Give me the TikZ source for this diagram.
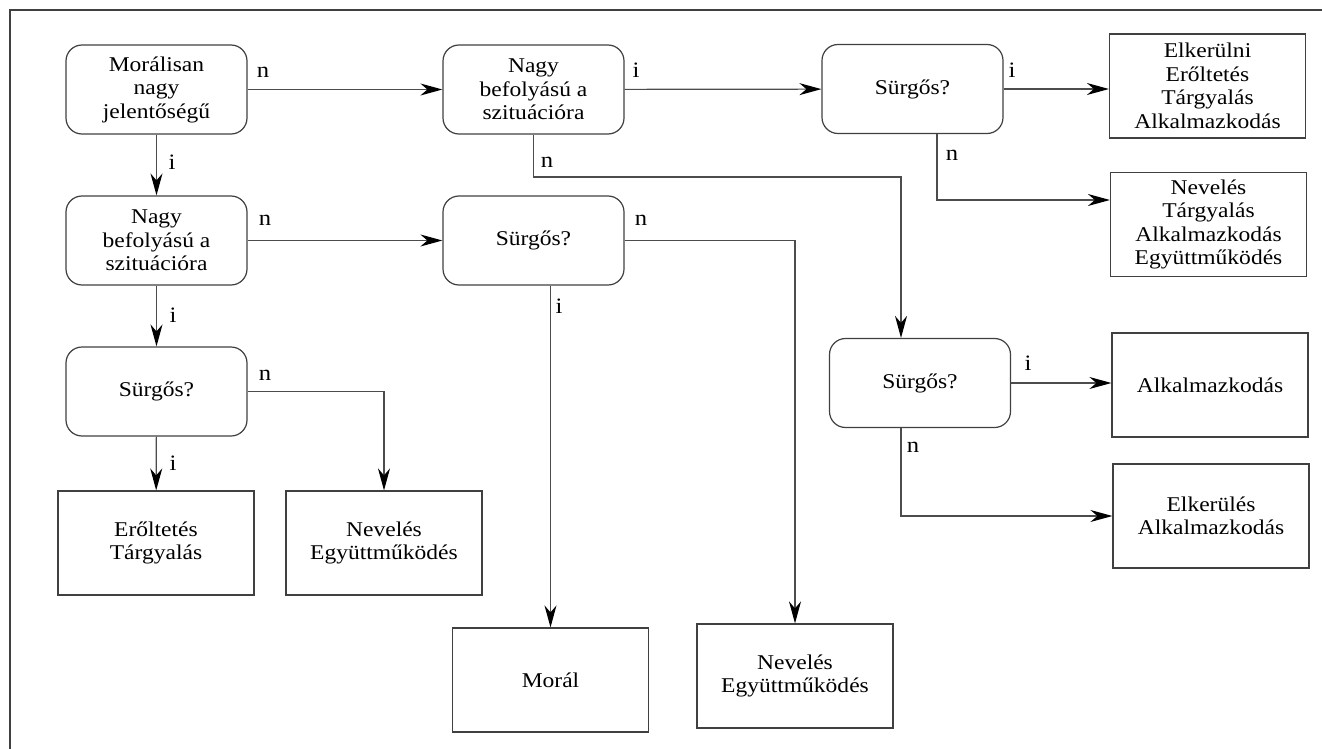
\documentclass[tikz,border=0pt]{standalone}
\usepackage{fontspec}
\setmainfont{Liberation Serif}[FakeStretch=1.12]
\usetikzlibrary{arrows.meta,calc}
\begin{document}
\begin{tikzpicture}[x=1pt,y=-1pt,
  txt/.style={font=\fontsize{21}{23.5}\selectfont, text=black},
  dec/.style={txt, draw=black!75, line width=1.2pt, rounded corners=16pt,
    minimum width=181pt, minimum height=89pt, align=center, inner sep=0pt},
  res/.style={txt, draw=black!75, line width=1.2pt,
    minimum width=196pt, minimum height=104pt, align=center, inner sep=0pt},
  lab/.style={font=\fontsize{22}{24}\selectfont, text=black, inner sep=0pt},
  arr/.style={draw=black!70, line width=1.2pt,
    -{Stealth[length=22pt,width=12pt,inset=7pt,color=black]}}]
\useasboundingbox (0,0) rectangle (1322,749);
\draw[draw=black!75, line width=1.5pt] (10,749) -- (10,10) -- (1322,10);

% decision nodes
\node[dec] (A) at (156.5,89.5) {Morálisan\\nagy\\jelentőségű};
\node[dec] (B) at (533.5,89.5) {Nagy\\befolyású a\\szituációra};
\node[dec] (C) at (912.5,89) {Sürgős?};
\node[dec] (F) at (156.5,240.5) {Nagy\\befolyású a\\szituációra};
\node[dec] (G) at (533.5,240.5) {Sürgős?};
\node[dec] (H) at (156.5,391.5) {Sürgős?};
\node[dec] (K) at (920,383) {Sürgős?};

% result boxes
\node[res] (D) at (1207.5,86) {Elkerülni\\Erőltetés\\Tárgyalás\\Alkalmazkodás};
\node[res] (E) at (1208.5,224.5) {Nevelés\\Tárgyalás\\Alkalmazkodás\\Együttműködés};
\node[res] (I) at (156,543) {Erőltetés\\Tárgyalás};
\node[res] (J) at (384,543) {Nevelés\\Együttműködés};
\node[res] (L) at (1210,385) {Alkalmazkodás};
\node[res] (M) at (1211,516) {Elkerülés\\Alkalmazkodás};
\node[res] (Mo) at (550.5,680) {Morál};
\node[res] (N) at (795,676) {Nevelés\\Együttműködés};

% connectors
\draw[arr] (A) -- (B);
\draw[arr] (A) -- (F);
\draw[arr] (F) -- (G);
\draw[arr] (F) -- (H);
\draw[arr] (H) -- (I);
\draw[arr] (H.east) -| (J.north);
\draw[arr] (B) -- (C);
\draw[arr] (B.south) |- ($(K.north)+(-19,-161)$) -- ($(K.north)+(-19,0)$);
\draw[arr] (C.east) -- (C.east -| D.west);
\draw[arr] ($(C.south)+(24.5,0)$) |- (E.west |- 0,200);
\draw[arr] (G.south -| Mo.north) -- (Mo.north);
\draw[arr] (G.east) -| (N.north);
\draw[arr] (K.east) -- (K.east -| L.west);
\draw[arr] ($(K.south)+(-19,0)$) |- (M.west);

% labels
\node[lab] at (263,72) {n};
\node[lab] at (172,162) {i};
\node[lab] at (265,220) {n};
\node[lab] at (173,315) {i};
\node[lab] at (265,375) {n};
\node[lab] at (173,463) {i};
\node[lab] at (636,70) {i};
\node[lab] at (547,162) {n};
\node[lab] at (641,220) {n};
\node[lab] at (559,306) {i};
\node[lab] at (1012,70) {i};
\node[lab] at (952,155) {n};
\node[lab] at (1028,363) {i};
\node[lab] at (913,447) {n};
\end{tikzpicture}
\end{document}
